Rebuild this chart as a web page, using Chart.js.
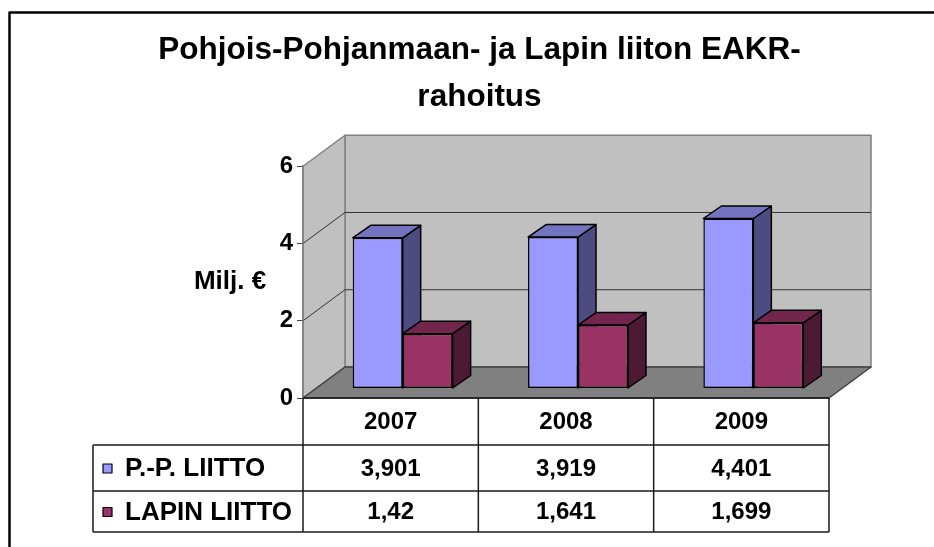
<!DOCTYPE html>
<html>
<head>
<meta charset="utf-8">
<script src="https://cdn.jsdelivr.net/npm/chart.js@4.4.0/dist/chart.umd.min.js"></script>
<style>
  html, body { margin: 0; padding: 0; background: #fff; }
  canvas { display: block; }
</style>
</head>
<body>
<canvas id="chart" width="934" height="547"></canvas>
<script>
const years = ["2007", "2008", "2009"];
const seriesNames = ["P.-P. LIITTO", "LAPIN LIITTO"];
const ppLiitto = [3.901, 3.919, 4.401];
const lapinLiitto = [1.42, 1.641, 1.699];
const yTicks = [0, 2, 4, 6];
const titleLines = ["Pohjois-Pohjanmaan- ja Lapin liiton EAKR-", "rahoitus"];
const yTitle = "Milj. €";

const FONT = '"Liberation Sans", Arial, sans-serif';
const colors = ["#9999FF", "#993366"];
const topColors = ["#7373BF", "#73264D"];
const sideColors = ["#4C4C80", "#4D1A33"];

// 3D offsets: whole box depth, where the bar row sits, and a single bar's depth
const WALL = { dx: 42, dy: -31 };
const ROW = { dx: 12, dy: -9.5 };
const BAR = { dx: 18, dy: -12.5 };
const rowHeights = [47, 46, 41];
const tableLeft = 93;

function poly(ctx, pts, fill, stroke, lw) {
    ctx.beginPath();
    pts.forEach(([px, py], k) => k ? ctx.lineTo(px, py) : ctx.moveTo(px, py));
    ctx.closePath();
    ctx.fillStyle = fill;
    ctx.fill();
    if (stroke) {
        ctx.strokeStyle = stroke;
        ctx.lineWidth = lw;
        ctx.lineJoin = 'round';
        ctx.stroke();
    }
}

function drawFaces(chart, i) {
    const ctx = chart.ctx;
    chart.getDatasetMeta(i).data.forEach(bar => {
        const { x, y, base, width } = bar.getProps(['x', 'y', 'base', 'width'], true);
        const l = x - width / 2, r = x + width / 2;
        poly(ctx, [[r, y], [r + BAR.dx, y + BAR.dy], [r + BAR.dx, base + BAR.dy], [r, base]], sideColors[i], '#000', 1.5);
        poly(ctx, [[l, y], [l + BAR.dx, y + BAR.dy], [r + BAR.dx, y + BAR.dy], [r, y]], topColors[i], '#000', 1.5);
    });
}

const box3d = {
    id: 'box3d',
    beforeDraw(chart) {
        const { ctx, chartArea: a, scales: { y } } = chart;
        const y0 = y.getPixelForValue(y.min), yt = y.getPixelForValue(y.max);
        const L = a.left, R = a.right, dx = WALL.dx, dy = WALL.dy;
        ctx.save();
        poly(ctx, [[L + dx, yt + dy], [R + dx, yt + dy], [R + dx, y0 + dy], [L + dx, y0 + dy]], '#C0C0C0', '#808080', 1.5);
        poly(ctx, [[L, yt], [L + dx, yt + dy], [L + dx, y0 + dy], [L, y0]], '#C0C0C0', '#808080', 1.5);
        // gridlines along side and back wall
        ctx.strokeStyle = '#333';
        ctx.lineWidth = 1;
        y.ticks.forEach(t => {
            if (t.value === y.min || t.value === y.max) return;
            const p = y.getPixelForValue(t.value);
            ctx.beginPath();
            ctx.moveTo(L, p);
            ctx.lineTo(L + dx, p + dy);
            ctx.lineTo(R + dx, p + dy);
            ctx.stroke();
        });
        poly(ctx, [[L, y0], [L + dx, y0 + dy], [R + dx, y0 + dy], [R, y0]], '#808080', '#404040', 1.5);
        ctx.restore();
    },
    beforeDatasetsDraw(chart) {
        chart.ctx.save();
        chart.ctx.translate(ROW.dx, ROW.dy);
        // faces of the left series go under the right series' front
        for (let i = 0; i < chart.data.datasets.length - 1; i++) drawFaces(chart, i);
    },
    afterDatasetsDraw(chart) {
        drawFaces(chart, chart.data.datasets.length - 1);
        chart.ctx.restore();
    },
    afterDraw(chart) {
        const { ctx, chartArea: a, scales: { x, y } } = chart;
        const y0 = y.getPixelForValue(0);
        const colW = (a.right - a.left) / years.length;
        const rows = [y0];
        rowHeights.forEach(h => rows.push(rows[rows.length - 1] + h));
        const series = [ppLiitto, lapinLiitto];

        ctx.save();
        ctx.strokeStyle = '#1a1a1a';
        ctx.lineWidth = 1.5;
        ctx.beginPath();
        ctx.moveTo(a.left, y0); ctx.lineTo(a.right, y0);
        for (let r = 1; r < rows.length; r++) {
            ctx.moveTo(tableLeft, rows[r]); ctx.lineTo(a.right, rows[r]);
        }
        ctx.moveTo(tableLeft, rows[1]); ctx.lineTo(tableLeft, rows[3]);
        for (let c = 0; c <= years.length; c++) {
            const cx = a.left + c * colW;
            ctx.moveTo(cx, rows[0]); ctx.lineTo(cx, rows[3]);
        }
        ctx.stroke();

        ctx.fillStyle = '#000';
        ctx.font = 'bold 24px ' + FONT;
        ctx.textBaseline = 'middle';
        ctx.textAlign = 'center';
        years.forEach((yr, i) => ctx.fillText(yr, x.getPixelForValue(i), (rows[0] + rows[1]) / 2 + 1));
        series.forEach((vals, s) => {
            const cy = (rows[s + 1] + rows[s + 2]) / 2 + 1;
            ctx.font = 'bold 24px ' + FONT;
            ctx.textAlign = 'center';
            vals.forEach((v, i) => {
                ctx.fillStyle = '#000';
                ctx.fillText(String(v).replace('.', ','), x.getPixelForValue(i), cy);
            });
            poly(ctx, [[103, cy - 5], [112, cy - 5], [112, cy + 4], [103, cy + 4]], colors[s], '#000', 1.2);
            ctx.fillStyle = '#000';
            ctx.textAlign = 'left';
            ctx.font = 'bold 26px ' + FONT;
            ctx.fillText(seriesNames[s], 125, cy);
        });

        ctx.textAlign = 'center';
        ctx.font = 'bold 26px ' + FONT;
        ctx.fillText(yTitle, 230, (y.getPixelForValue(2) + y.getPixelForValue(4)) / 2);

        ctx.strokeStyle = '#000';
        ctx.lineWidth = 2.5;
        ctx.strokeRect(9.5, 12.5, 1000, 600);
        ctx.restore();
    }
};

Chart.defaults.color = '#000';
Chart.defaults.font.family = FONT;

new Chart(document.getElementById('chart'), {
    type: 'bar',
    data: {
        labels: years,
        datasets: [
            {
                label: seriesNames[0],
                data: ppLiitto,
                backgroundColor: colors[0],
                borderColor: '#000',
                borderWidth: 1.5,
                borderSkipped: false,
                clip: false
            },
            {
                label: seriesNames[1],
                data: lapinLiitto,
                backgroundColor: colors[1],
                borderColor: '#000',
                borderWidth: 1.5,
                borderSkipped: false,
                clip: false
            }
        ]
    },
    options: {
        responsive: false,
        animation: false,
        devicePixelRatio: 1,
        categoryPercentage: 0.57,
        barPercentage: 1,
        layout: { padding: { left: 130, right: 105, top: 0, bottom: 149 } },
        plugins: {
            legend: { display: false },
            tooltip: { enabled: false },
            title: {
                display: true,
                text: titleLines,
                color: '#000',
                font: { family: FONT, size: 31.5, weight: 'bold', lineHeight: 1.48 },
                padding: { top: 27, bottom: 46 }
            }
        },
        scales: {
            x: { display: false, offset: true },
            y: {
                min: 0,
                max: 6,
                afterBuildTicks: scale => { scale.ticks = yTicks.map(v => ({ value: v })); },
                afterFit: scale => { scale.width = 173; },
                ticks: {
                    color: '#000',
                    padding: 4,
                    font: { family: FONT, size: 24, weight: 'bold' }
                },
                grid: {
                    drawOnChartArea: false,
                    drawTicks: true,
                    tickLength: 6,
                    color: '#404040',
                    lineWidth: 1
                },
                border: { display: true, color: '#808080', width: 1.5 }
            }
        }
    },
    plugins: [box3d]
});
</script>
</body>
</html>
